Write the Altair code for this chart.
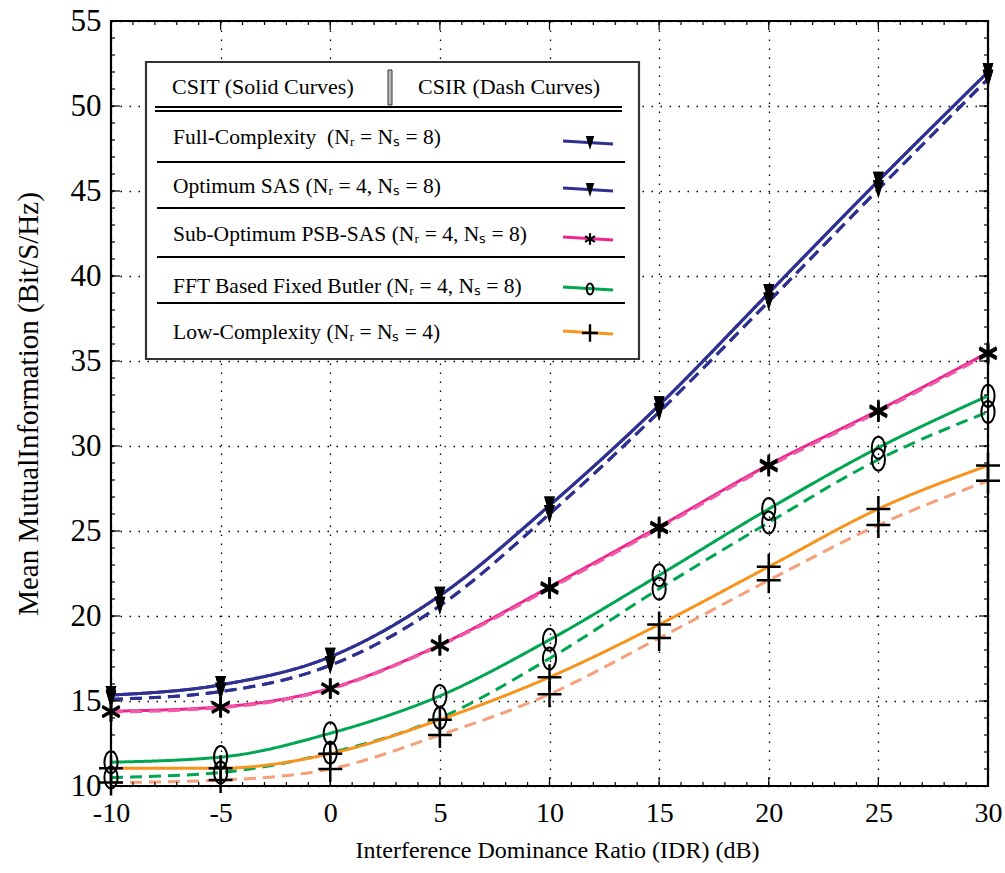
import altair as alt
import pandas as pd

# ---------------- data ----------------
x_vals = [-10, -5, 0, 5, 10, 15, 20, 25, 30]

full_csit = [15.35, 15.95, 17.6, 21.2, 26.5, 32.4, 39.0, 45.6, 52.0]
full_csir = [15.1, 15.55, 17.1, 20.6, 26.0, 32.0, 38.5, 45.1, 51.6]
opt_csit = [15.35, 15.95, 17.6, 21.2, 26.5, 32.4, 39.0, 45.6, 52.0]
opt_csir = [15.1, 15.55, 17.1, 20.6, 26.0, 32.0, 38.5, 45.1, 51.6]
psb_csit = [14.4, 14.65, 15.75, 18.3, 21.7, 25.25, 28.9, 32.1, 35.5]
psb_csir = [14.35, 14.6, 15.7, 18.25, 21.6, 25.15, 28.8, 32.0, 35.4]
fft_csit = [11.4, 11.7, 13.1, 15.3, 18.6, 22.4, 26.3, 29.9, 32.95]
fft_csir = [10.5, 10.8, 11.95, 14.0, 17.5, 21.6, 25.5, 29.2, 32.0]
low_csit = [11.05, 11.05, 11.9, 13.9, 16.4, 19.5, 22.9, 26.3, 28.85]
low_csir = [10.2, 10.35, 11.0, 13.0, 15.4, 18.7, 22.1, 25.35, 27.95]

series_keys = ["full", "opt", "psb", "fft", "low"]
series_markers = ["tri", "tri", "star", "oval", "plus"]
legend_labels = [
    "Full-Complexity\u00a0\u00a0(N\u1d63 = N\u209b = 8)",
    "Optimum SAS (N\u1d63 = 4, N\u209b = 8)",
    "Sub-Optimum PSB-SAS (N\u1d63 = 4, N\u209b = 8)",
    "FFT Based Fixed Butler (N\u1d63 = 4, N\u209b = 8)",
    "Low-Complexity (N\u1d63 = N\u209b = 4)",
]
header_left = "CSIT (Solid Curves)"
header_right = "CSIR (Dash Curves)"
x_title = "Interference Dominance Ratio (IDR) (dB)"
y_title = "Mean MutualInformation (Bit/S/Hz)"

x_major = [-10, -5, 0, 5, 10, 15, 20, 25, 30]
x_minor = list(range(-10, 31))
y_major = [10, 15, 20, 25, 30, 35, 40, 45, 50, 55]
y_minor = list(range(10, 56))

# ---------------- styles ----------------
BLUE = "#2E3192"
PINK = "#EC268F"
GREEN = "#00A651"
ORANGE = "#F7941D"
ORANGE_D = "#F5A07A"
PINK_D = "#F05AA6"
FONT = "Liberation Serif"

W, H = 877, 765

color_domain = ["full_T", "full_R", "opt_T", "opt_R", "psb_T", "psb_R",
                "fft_T", "fft_R", "low_T", "low_R"]
color_range = [BLUE, BLUE, BLUE, BLUE, PINK, PINK_D, GREEN, GREEN, ORANGE, ORANGE_D]
series_colors = [BLUE, BLUE, PINK, GREEN, ORANGE]

TRI = "M-0.6,-1L0.6,-1L0,1Z"
STAR = "M0,-1L0,1M-0.87,-0.5L0.87,0.5M-0.87,0.5L0.87,-0.5"
OVAL = "M0,-1A0.6,1 0 1,1 0,1A0.6,1 0 1,1 0,-1Z"
PLUS = "M-0.92,0L0.92,0M0,-1L0,1"

# ---------------- build table ----------------
vals = {
    "full": (full_csit, full_csir),
    "opt": (opt_csit, opt_csir),
    "psb": (psb_csit, psb_csir),
    "fft": (fft_csit, fft_csir),
    "low": (low_csit, low_csir),
}
rows = []
for key, mk in zip(series_keys, series_markers):
    t, r = vals[key]
    for xv, yv in zip(x_vals, t):
        rows.append({"x": xv, "y": yv, "key": key + "_T", "csi": "CSIT", "marker": mk})
    for xv, yv in zip(x_vals, r):
        rows.append({"x": xv, "y": yv, "key": key + "_R", "csi": "CSIR", "marker": mk})
df = pd.DataFrame(rows)

xscale = alt.Scale(domain=[-10, 30], nice=False, zero=False)
yscale = alt.Scale(domain=[10, 55], nice=False, zero=False)

x_axis = alt.Axis(values=x_major, labelExpr="'' + datum.value", ticks=False, domain=False,
                  labelFlush=False, labelOverlap=False,
                  grid=True, gridDash=[1.5, 7.5], gridColor="#000", gridWidth=1.3,
                  labelFont=FONT, labelFontSize=28, labelColor="#000", labelPadding=13,
                  title=x_title, titleFont=FONT, titleFontSize=24, titleFontWeight="normal",
                  titleColor="#000", titlePadding=11, titleX=446)
y_axis = alt.Axis(values=y_major, ticks=False, domain=False,
                  labelFlush=False, labelOverlap=False,
                  grid=True, gridDash=[1.5, 7.5], gridColor="#000", gridWidth=1.3,
                  labelFont=FONT, labelFontSize=31, labelColor="#000", labelPadding=10,
                  title=y_title, titleFont=FONT, titleFontSize=29, titleFontWeight="normal",
                  titleColor="#000", titleX=-83, titleBaseline="middle")

X = alt.X("x:Q", scale=xscale, axis=x_axis)
Y = alt.Y("y:Q", scale=yscale, axis=y_axis)

base = alt.Chart(df)

lines = base.mark_line(strokeWidth=3, interpolate="monotone").encode(
    x=X, y=Y,
    color=alt.Color("key:N", scale=alt.Scale(domain=color_domain, range=color_range), legend=None),
    strokeDash=alt.StrokeDash("csi:N", scale=alt.Scale(domain=["CSIT", "CSIR"],
                                                        range=[[1, 0], [12, 7]]), legend=None),
    detail="key:N",
)


def markers(m, shape, size, filled, sw):
    f = base.transform_filter(alt.datum.marker == m)
    if filled:
        mk = f.mark_point(shape=shape, size=size, filled=True, color="#000", opacity=1)
    else:
        mk = f.mark_point(shape=shape, size=size, filled=False, color="#000",
                          strokeWidth=sw, opacity=1)
    return mk.encode(x=X, y=Y)


m_tri = markers("tri", TRI, 320, True, 0)
m_star = markers("star", STAR, 400, False, 2.7)
m_oval = markers("oval", OVAL, 484, False, 2.0)
m_plus = markers("plus", PLUS, 676, False, 2.5)

# ---------------- inward ticks on all four sides ----------------
def xticks(values, y0, y1):
    return alt.Chart(pd.DataFrame({"x": values})).mark_rule(color="#000", strokeWidth=1.2).encode(
        x=X, y=alt.value(y0), y2=alt.value(y1))


def yticks(values, x0, x1):
    return alt.Chart(pd.DataFrame({"y": values})).mark_rule(color="#000", strokeWidth=1.2).encode(
        y=Y, x=alt.value(x0), x2=alt.value(x1))


ticks = [
    xticks(x_minor, H, H - 4), xticks(x_major, H, H - 9),
    xticks(x_minor, 0, 4), xticks(x_major, 0, 9),
    yticks(y_minor, 0, 4), yticks(y_major, 0, 9),
    yticks(y_minor, W, W - 4), yticks(y_major, W, W - 9),
]

# ---------------- custom legend box ----------------
one = pd.DataFrame({"a": [0]})


def rule(x0, x1, y0, y1, color="#000", sw=2.0):
    return alt.Chart(one).mark_rule(color=color, strokeWidth=sw).encode(
        x=alt.value(x0), x2=alt.value(x1), y=alt.value(y0), y2=alt.value(y1))


def text(s, x0, y0, size=20):
    return alt.Chart(pd.DataFrame({"t": [s]})).mark_text(
        font=FONT, fontSize=size, align="left", baseline="middle", color="#000").encode(
        x=alt.value(x0), y=alt.value(y0), text="t:N")


legend = [
    alt.Chart(one).mark_rect(fill="white", stroke="#333", strokeWidth=2.2).encode(
        x=alt.value(35), x2=alt.value(528), y=alt.value(41), y2=alt.value(338)),
    text(header_left, 61, 66, 22),
    text(header_right, 307, 66, 22),
    alt.Chart(one).mark_rect(fill="#bbb", stroke="#333", strokeWidth=1).encode(
        x=alt.value(277), x2=alt.value(281), y=alt.value(49), y2=alt.value(84)),
    rule(44, 511, 86, 86), rule(44, 511, 90, 90),
]
sep_y = [141, 187, 236, 282]
for sy in sep_y:
    legend.append(rule(46, 514, sy, sy))

row_text_y = [117, 166, 214, 266, 312]
row_sample_y = [121, 168, 217, 267, 311]
row_marker = [(TRI, 200, True, 0), (TRI, 200, True, 0), (STAR, 130, False, 2.2),
              (OVAL, 120, False, 2.0), (PLUS, 300, False, 2.4)]
for lab, ty, sy, col, (shp, sz, fl, sw) in zip(legend_labels, row_text_y, row_sample_y,
                                               series_colors, row_marker):
    legend.append(text(lab, 62, ty, 21.5))
    legend.append(rule(452, 502, sy - 1, sy + 2, color=col, sw=3))
    if fl:
        legend.append(alt.Chart(one).mark_point(shape=shp, size=sz, filled=True, color="#000",
                                                opacity=1).encode(x=alt.value(479), y=alt.value(sy + 1)))
    else:
        legend.append(alt.Chart(one).mark_point(shape=shp, size=sz, filled=False, color="#000",
                                                strokeWidth=sw, opacity=1).encode(
            x=alt.value(479), y=alt.value(sy + 1)))

chart = alt.layer(lines, m_tri, m_star, m_oval, m_plus, *ticks, *legend).properties(
    width=W, height=H,
    autosize=alt.AutoSizeParams(type="none"),
    padding={"left": 111, "top": 21, "right": 17, "bottom": 87},
    background="white",
).configure_view(stroke="#000", strokeWidth=2.2)

chart.save("out.html", embed_options={"renderer": "svg", "actions": False})
